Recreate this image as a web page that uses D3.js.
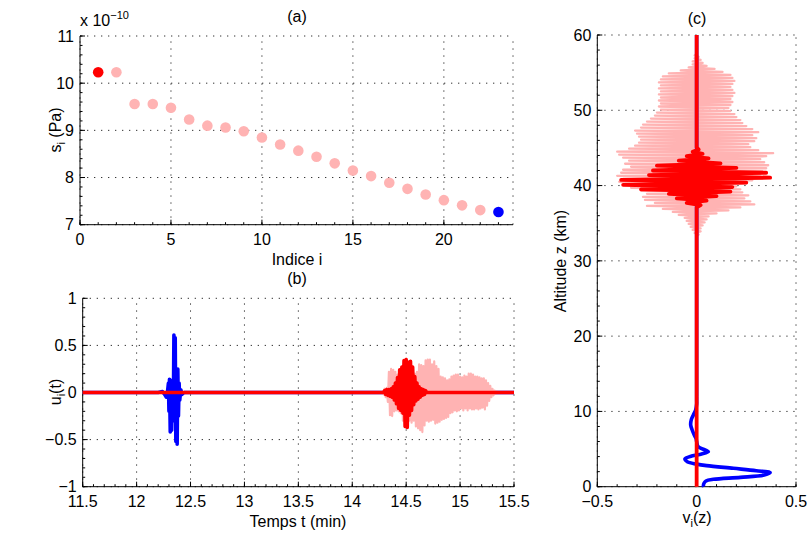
<!DOCTYPE html>
<html><head><meta charset="utf-8">
<script src="https://cdn.jsdelivr.net/npm/d3@7"></script>
<style>
body{margin:0;background:#fff}
svg{display:block}
text{font-family:"Liberation Sans",Arial,Helvetica,sans-serif;fill:#000}
</style>
</head><body>
<svg id="fig" width="809" height="533"></svg>
<script>
// ---------------- DATA ----------------
// Panel (a)
const indexI = [1,2,3,4,5,6,7,8,9,10,11,12,13,14,15,16,17,18,19,20,21,22,23];
const sValues = [10.23,10.23,9.56,9.56,9.48,9.23,9.10,9.06,8.98,8.85,8.70,8.57,8.44,8.30,8.15,8.03,7.89,7.76,7.64,7.52,7.41,7.31,7.27]; // x 1e-10 Pa
const aXTicks = [0,5,10,15,20];
const aYTicks = [7,8,9,10,11];

// Panel (b)
const bXTicks = [11.5,12,12.5,13,13.5,14,14.5,15,15.5];
const bYTicks = [-1,-0.5,0,0.5,1];
// blue trace u_1(t)
const bBlueT = [12.20,12.24,12.26,12.275,12.285,12.295,12.300,12.305,12.312,12.318,12.325,12.332,12.340,12.346,12.352,12.358,12.364,12.370,12.376,12.382,12.388,12.394,12.400,12.410,12.420,12.440];
const bBlueV = [0,0.01,-0.02,-0.05,-0.01,0.10,-0.20,0.14,-0.42,0.13,-0.40,0.10,-0.30,0.61,-0.20,0.58,-0.52,0.22,-0.55,0.25,-0.25,0.10,-0.08,0.03,-0.02,0];
// light red trace, sampled from t0 every dt
const bPinkT0 = 14.27, bPinkDt = 0.01;
const bPinkV = [0,0.01,-0.02,0.04,-0.05,0.05,-0.10,0.22,-0.24,0.25,-0.25,0.24,-0.20,0.22,-0.19,0.19,-0.20,0.20,-0.22,0.25,-0.30,
 0.33,-0.37,0.36,-0.36,0.33,-0.30,0.33,-0.32,0.26,-0.30,0.20,-0.36,0.22,-0.38,0.30,-0.40,0.29,-0.42,0.28,-0.35,
 0.34,-0.30,0.35,-0.31,0.35,-0.30,0.30,-0.29,0.33,-0.33,0.28,-0.32,0.25,-0.31,0.17,-0.29,0.16,-0.28,0.15,-0.27,
 0.13,-0.26,0.14,-0.22,0.17,-0.21,0.18,-0.19,0.19,-0.20,0.19,-0.19,0.17,-0.17,0.16,-0.19,0.18,-0.17,0.17,-0.19,
 0.20,-0.17,0.20,-0.18,0.19,-0.18,0.17,-0.17,0.17,-0.18,0.16,-0.17,0.15,-0.16,0.15,-0.18,0.13,-0.14,0.10,-0.09,
 0.07,-0.05,0.04,-0.03,0.02,-0.01,0.01,0];
// red trace, sampled from t0 every dt
const bRedT0 = 14.29, bRedDt = 0.01;
const bRedV = [0,0.02,-0.02,0.03,-0.03,0.03,-0.04,0.04,-0.05,0.06,-0.08,0.10,-0.12,0.16,-0.17,0.24,-0.19,0.27,-0.22,0.34,-0.36,
 0.35,-0.37,0.32,-0.24,0.33,-0.19,0.27,-0.13,0.17,-0.09,0.10,-0.07,0.06,-0.05,0.04,-0.03,0.03,-0.02,0.02,0];

// Panel (c)
const cXTicks = [-0.5,0,0.5];
const cYTicks = [0,10,20,30,40,50,60];
// light red profile, sampled from z0 every dz
const cPinkZ0 = 33.3, cPinkDz = 0.2;
const cPinkV = [0,0.01,-0.01,0.02,-0.02,0.02,-0.03,0.03,-0.04,0.04,-0.05,0.05,-0.06,0.06,-0.09,0.10,-0.12,0.16,-0.17,0.22,-0.25,
 0.29,-0.21,0.27,-0.26,0.24,-0.27,0.26,-0.25,0.23,-0.28,0.22,-0.33,0.20,-0.36,0.25,-0.39,0.28,-0.37,0.30,-0.40,
 0.32,-0.38,0.33,-0.37,0.35,-0.33,0.36,-0.36,0.34,-0.34,0.32,-0.37,0.35,-0.39,0.385,-0.40,0.31,-0.34,0.27,-0.31,
 0.26,-0.29,0.29,-0.28,0.30,-0.29,0.28,-0.30,0.31,-0.31,0.28,-0.28,0.25,-0.27,0.23,-0.25,0.22,-0.23,0.20,-0.21,
 0.19,-0.20,0.17,-0.18,0.16,-0.19,0.17,-0.18,0.18,-0.19,0.17,-0.18,0.18,-0.19,0.19,-0.18,0.18,-0.19,0.17,-0.18,
 0.18,-0.19,0.19,-0.18,0.18,-0.17,0.17,-0.14,0.13,-0.08,0.09,-0.04,0.05,-0.02,0.03,-0.02,0.02,-0.01,0.01,-0.01,0];
// red profile
const cRedZ = [37.1,37.4,37.7,38.0,38.3,38.6,38.9,39.2,39.5,39.8,40.1,40.4,40.75,41.05,41.4,41.7,42.0,42.35,42.65,42.95,43.3,43.6,43.9,44.2,44.5,44.8,45.1];
const cRedV = [0,0.02,-0.05,0.05,-0.10,0.10,-0.14,0.17,-0.28,0.18,-0.37,0.25,-0.38,0.37,-0.24,0.35,-0.22,0.20,-0.20,0.12,-0.09,0.06,-0.05,0.03,-0.02,0.01,0];
// blue profile
const cBlueZ = [0,0.09,0.45,0.76,0.98,1.24,1.55,1.87,2.13,2.44,2.8,3.0,3.3,3.7,4.08,4.34,4.65,4.9,5.3,6.0,6.4,6.87,7.5,8.2,8.9,9.5,10.2,11.0,11.5,12.0];
const cBlueV = [0.035,0.034,0.037,0.047,0.084,0.22,0.34,0.37,0.30,0.185,0.05,0,-0.047,-0.059,-0.025,0.025,0.059,0.042,0.008,0,-0.003,-0.012,-0.022,-0.03,-0.027,-0.017,-0.005,0,0,0];

// ---------------- STYLE ----------------
const PINK = "#ffb3b3", RED = "#ff0000", BLUE = "#0000ff";
const FS = 16;

const svg = d3.select("#fig");
svg.append("rect").attr("width",809).attr("height",533).attr("fill","#fff");

const fmt = v => (v < 0 ? "\u2212" + Math.abs(v) : String(v));

function axes(g, x, y, xt, yt, xMinor, yMinor, extraRight) {
  const [x0, x1] = x.range(), [y0, y1] = y.range(); // y0 bottom, y1 top
  const grid = g.append("g").attr("stroke","#333").attr("stroke-width",1).attr("stroke-dasharray","1.3,5.7");
  xt.forEach(t => grid.append("line").attr("x1",x(t)).attr("x2",x(t)).attr("y1",y0).attr("y2",y1));
  yt.forEach(t => grid.append("line").attr("x1",x0).attr("x2",x1).attr("y1",y(t)).attr("y2",y(t)));
  if (extraRight) grid.append("line").attr("x1",x1).attr("x2",x1).attr("y1",y0).attr("y2",y1);
  const mt = g.append("g").attr("stroke","#000").attr("stroke-width",1);
  xMinor.forEach(t => mt.append("line").attr("x1",x(t)).attr("x2",x(t)).attr("y1",y0).attr("y2",y0-2.5));
  yMinor.forEach(t => mt.append("line").attr("x1",x0).attr("x2",x0+2.5).attr("y1",y(t)).attr("y2",y(t)));
  xt.forEach(t => mt.append("line").attr("x1",x(t)).attr("x2",x(t)).attr("y1",y0).attr("y2",y0-5));
  yt.forEach(t => mt.append("line").attr("x1",x0).attr("x2",x0+5).attr("y1",y(t)).attr("y2",y(t)));
  g.append("line").attr("x1",x0).attr("x2",x1).attr("y1",y0).attr("y2",y0).attr("stroke","#000");
  g.append("line").attr("x1",x0).attr("x2",x0).attr("y1",y0).attr("y2",y1).attr("stroke","#000");
  xt.forEach(t => g.append("text").attr("x",x(t)).attr("y",y0+20).attr("text-anchor","middle").attr("font-size",FS).text(fmt(t)));
  yt.forEach(t => g.append("text").attr("x",x0-6).attr("y",y(t)).attr("dy","0.36em").attr("text-anchor","end").attr("font-size",FS).text(fmt(t)));
}
function minorRange(a, b, step) { const out=[]; const n=Math.round((b-a)/step); for(let k=0;k<=n;k++) out.push(a+k*step); return out; }

// ---------------- PANEL A ----------------
{
  const x = d3.scaleLinear().domain([0,23.8]).range([80,513]);
  const y = d3.scaleLinear().domain([7,11]).range([224.7,36]);
  const g = svg.append("g");
  axes(g, x, y, aXTicks, aYTicks, minorRange(0,23,1), minorRange(7,11,0.2), true);
  const n = indexI.length;
  g.selectAll("circle.pt").data(indexI).join("circle")
    .attr("cx", d => x(d)).attr("cy", (d,i) => y(sValues[i])).attr("r",5.3)
    .attr("fill", (d,i) => i===0 ? RED : (i===n-1 ? BLUE : PINK));
  g.append("text").attr("x",297).attr("y",22).attr("text-anchor","middle").attr("font-size",FS).text("(a)");
  const ex = g.append("text").attr("x",80).attr("y",26).attr("font-size",FS);
  ex.append("tspan").text("x 10");
  ex.append("tspan").attr("font-size",11).attr("dy",-7).text("\u221210");
  g.append("text").attr("x",297).attr("y",265).attr("text-anchor","middle").attr("font-size",FS).text("Indice i");
  const yl = g.append("text").attr("transform","translate(61,130) rotate(-90)").attr("text-anchor","middle").attr("font-size",FS);
  yl.append("tspan").text("s");
  yl.append("tspan").attr("font-size",11).attr("dy",4).text("i");
  yl.append("tspan").attr("dy",-4).text(" (Pa)");
}

// ---------------- PANEL B ----------------
{
  const x = d3.scaleLinear().domain([11.5,15.5]).range([82.7,514]);
  const y = d3.scaleLinear().domain([-1,1]).range([486.7,298.3]);
  const g = svg.append("g");
  axes(g, x, y, bXTicks, bYTicks, minorRange(11.5,15.5,0.1), minorRange(-1,1,0.1), false);
  const line = d3.line().x(d => x(d[0])).y(d => y(d[1]));
  const blue = [[11.5,0], ...bBlueT.map((t,i)=>[t,bBlueV[i]]), [15.5,0]];
  const pink = [[11.5,0], ...bPinkV.map((v,k)=>[bPinkT0+k*bPinkDt, v]), [15.5,0]];
  const red = [[11.5,0], ...bRedV.map((v,k)=>[bRedT0+k*bRedDt, v]), [15.5,0]];
  g.append("path").attr("d", line(blue)).attr("fill","none").attr("stroke",BLUE).attr("stroke-width",3.6).attr("stroke-linejoin","round");
  g.append("path").attr("d", line(pink)).attr("fill","none").attr("stroke",PINK).attr("stroke-width",2.2).attr("stroke-linejoin","round");
  g.append("path").attr("d", line(red)).attr("fill","none").attr("stroke",RED).attr("stroke-width",3.6).attr("stroke-linejoin","round");
  g.append("text").attr("x",297).attr("y",284).attr("text-anchor","middle").attr("font-size",FS).text("(b)");
  g.append("text").attr("x",298).attr("y",527).attr("text-anchor","middle").attr("font-size",FS).text("Temps t (min)");
  const yl = g.append("text").attr("transform","translate(61,392) rotate(-90)").attr("text-anchor","middle").attr("font-size",FS);
  yl.append("tspan").text("u");
  yl.append("tspan").attr("font-size",11).attr("dy",4).text("i");
  yl.append("tspan").attr("dy",-4).text("(t)");
}

// ---------------- PANEL C ----------------
{
  const x = d3.scaleLinear().domain([-0.5,0.5]).range([597.3,796]);
  const y = d3.scaleLinear().domain([0,60]).range([486.7,35]);
  const g = svg.append("g");
  axes(g, x, y, cXTicks, cYTicks, minorRange(-0.5,0.5,0.1), minorRange(0,60,2), false);
  const line = d3.line().x(d => x(d[1])).y(d => y(d[0]));
  const pink = [[0,0], ...cPinkV.map((v,k)=>[cPinkZ0+k*cPinkDz, v]), [60,0]];
  const blueLow = cBlueZ.map((z,i)=>[z,cBlueV[i]]);
  const red = [[0,0], ...cRedZ.map((z,i)=>[z,cRedV[i]]), [60,0]];
  g.append("path").attr("d", line(pink)).attr("fill","none").attr("stroke",PINK).attr("stroke-width",2.3).attr("stroke-linejoin","round");
  g.append("path").attr("d", line([[12,0],[60,0]])).attr("fill","none").attr("stroke",BLUE).attr("stroke-width",3.6);
  g.append("path").attr("d", d3.line().x(d => x(d[1])).y(d => y(d[0])).curve(d3.curveCatmullRom)(blueLow)).attr("fill","none").attr("stroke",BLUE).attr("stroke-width",3.6).attr("stroke-linejoin","round");
  g.append("path").attr("d", line(red)).attr("fill","none").attr("stroke",RED).attr("stroke-width",3.8).attr("stroke-linejoin","round");
  g.append("text").attr("x",697).attr("y",24).attr("text-anchor","middle").attr("font-size",FS).text("(c)");
  const xl = g.append("text").attr("x",697).attr("y",523).attr("text-anchor","middle").attr("font-size",FS);
  xl.append("tspan").text("v");
  xl.append("tspan").attr("font-size",11).attr("dy",4).text("i");
  xl.append("tspan").attr("dy",-4).text("(z)");
  g.append("text").attr("transform","translate(566,261) rotate(-90)").attr("text-anchor","middle").attr("font-size",FS).text("Altitude z (km)");
}
</script>
</body></html>
